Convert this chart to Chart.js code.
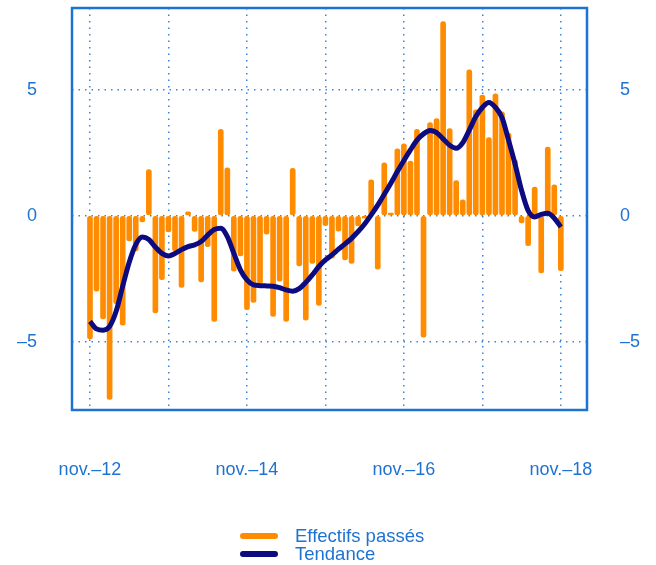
<!DOCTYPE html>
<html>
<head>
<meta charset="utf-8">
<script src="https://cdn.jsdelivr.net/npm/chart.js@4.4.1/dist/chart.umd.min.js"></script>
<style>
  body { margin: 0; background: #fff; }
  #wrap { position: relative; width: 656px; height: 565px; }
  #legend {
    position: absolute; left: 240px; top: 527px;
    font-family: "Liberation Sans", Arial, sans-serif; font-size: 18.5px;
    color: #1e73d2; line-height: 18px;
  }
  .item { display: flex; align-items: center; height: 18px; }
  .swatch { width: 38px; height: 6px; border-radius: 3px; margin-right: 17px; }
</style>
</head>
<body>
<div id="wrap">
  <canvas id="chart" width="656" height="565"></canvas>
  <div id="legend">
    <div class="item"><span class="swatch" style="background:#ff8c00"></span>Effectifs passés</div>
    <div class="item"><span class="swatch" style="background:#0c0c80"></span>Tendance</div>
  </div>
</div>
<script>
// monthly values, nov-12 .. nov-18 (73 months)
var effectifs = [
  -4.9, -3.0, -4.1, -7.3, -3.5, -4.35, -1.0, -1.4, -0.25, 1.83, -3.86, -2.54,
  -0.65, -1.4, -2.85, 0.15, -0.63, -2.63, -1.23, -4.2, 3.43, 1.9, -2.2, -1.6,
  -3.73, -3.45, -2.7, -0.73, -4.0, -2.6, -4.2, 1.88, -2.0, -4.15, -1.9, -3.57,
  -0.4, -1.69, -0.62, -1.76, -1.9, -0.41, -0.1, 1.42, -2.13, 2.1, 0.1, 2.66,
  2.85, 2.17, 3.43, -4.83, 3.7, 3.86, 7.71, 3.46, 1.39, 0.63, 5.79, 4.2,
  4.79, 3.1, 4.84, 4.13, 3.28, 2.22, -0.29, -1.19, 1.14, -2.27, 2.72, 1.23,
  -2.18
];
var tendance = [
  -4.2, -4.5, -4.55, -4.4, -3.8, -2.8, -1.85, -1.15, -0.85, -0.95, -1.25, -1.5,
  -1.6, -1.5, -1.35, -1.23, -1.16, -1.03, -0.77, -0.55, -0.5, -0.83, -1.5, -2.15,
  -2.55, -2.75, -2.78, -2.79, -2.8, -2.86, -2.95, -3.0, -2.9, -2.65, -2.35, -2.02,
  -1.76, -1.56, -1.33, -1.12, -0.9, -0.63, -0.33, 0.03, 0.42, 0.85, 1.29, 1.75,
  2.19, 2.61, 3.0, 3.25, 3.38, 3.3, 3.05, 2.8, 2.68, 2.9, 3.4, 3.94,
  4.3, 4.5, 4.3, 3.9, 3.0, 2.05, 1.0, 0.2, -0.05, 0.05, 0.1, -0.1,
  -0.45
];
var xTickValues = [0, 24, 48, 72];
var xTickLabels = ["nov.\u201312", "nov.\u201314", "nov.\u201316", "nov.\u201318"];
var xGridValues = [0, 12, 24, 36, 48, 60, 72];
var yTickValues = [-5, 0, 5];
var yTickLabels = ["\u20135", "0", "5"];

var blue = "#1e73d2";
var dotBlue = "#3a83d8";

function toPoints(arr) {
  var pts = [];
  for (var i = 0; i < arr.length; i++) pts.push({ x: i, y: arr[i] });
  return pts;
}

function yTicks(scale) {
  scale.ticks = yTickValues.map(function (v) { return { value: v }; });
}

function yLabel(v) {
  var i = yTickValues.indexOf(v);
  return i >= 0 ? yTickLabels[i] : "";
}

// fixed axis sizes so the plot area lands where the original has it
function fixY(w) {
  return function (scale) {
    scale.width = w;
    scale.paddingTop = 0;
    scale.paddingBottom = 0;
  };
}

// frame round the plot area
var framePlugin = {
  id: "frame",
  afterDraw: function (c) {
    var a = c.chartArea, ctx = c.ctx;
    ctx.save();
    ctx.strokeStyle = blue;
    ctx.lineWidth = 2.5;
    ctx.strokeRect(a.left, a.top, a.right - a.left, a.bottom - a.top);
    ctx.restore();
  }
};

var font = { family: "'Liberation Sans', Arial, sans-serif", size: 18 };

new Chart(document.getElementById("chart"), {
  type: "bar",
  data: {
    datasets: [
      {
        type: "line",
        label: "Tendance",
        data: toPoints(tendance),
        borderColor: "#0c0c80",
        borderWidth: 5,
        pointRadius: 0,
        tension: 0.4,
        cubicInterpolationMode: "monotone",
        order: 0
      },
      {
        label: "Effectifs passés",
        data: toPoints(effectifs),
        backgroundColor: "#ff8c00",
        barThickness: 5,
        borderRadius: 3,
        borderSkipped: false,
        order: 1
      }
    ]
  },
  options: {
    responsive: false,
    animation: false,
    layout: { padding: { top: 8, left: 0, right: 0, bottom: 0 } },
    plugins: { legend: { display: false }, tooltip: { enabled: false } },
    scales: {
      x: {
        type: "linear",
        min: -2.75,
        max: 76,
        offset: false,
        z: 1,
        afterBuildTicks: function (scale) {
          scale.ticks = xGridValues.map(function (v) { return { value: v }; });
        },
        afterFit: function (scale) {
          scale.height = 155;
          scale.paddingLeft = 0;
          scale.paddingRight = 0;
        },
        grid: { color: dotBlue, lineWidth: 1.5, drawTicks: false, offset: false },
        border: { display: false, dash: [1.5, 5] },
        ticks: {
          autoSkip: false,
          maxRotation: 0,
          padding: 49,
          color: blue,
          font: font,
          callback: function (v) {
            var i = xTickValues.indexOf(v);
            return i >= 0 ? xTickLabels[i] : "";
          }
        }
      },
      y: {
        position: "left",
        min: -7.72,
        max: 8.25,
        z: 1,
        afterBuildTicks: yTicks,
        afterFit: fixY(72),
        grid: { color: dotBlue, lineWidth: 1.5, drawTicks: false },
        border: { display: false, dash: [1.5, 5] },
        ticks: { padding: 35, color: blue, font: font, callback: yLabel }
      },
      y2: {
        position: "right",
        min: -7.72,
        max: 8.25,
        afterBuildTicks: yTicks,
        afterFit: fixY(69),
        grid: { display: false, drawTicks: false },
        border: { display: false },
        ticks: { padding: 33, color: blue, font: font, callback: yLabel }
      }
    }
  },
  plugins: [framePlugin]
});
</script>
</body>
</html>
